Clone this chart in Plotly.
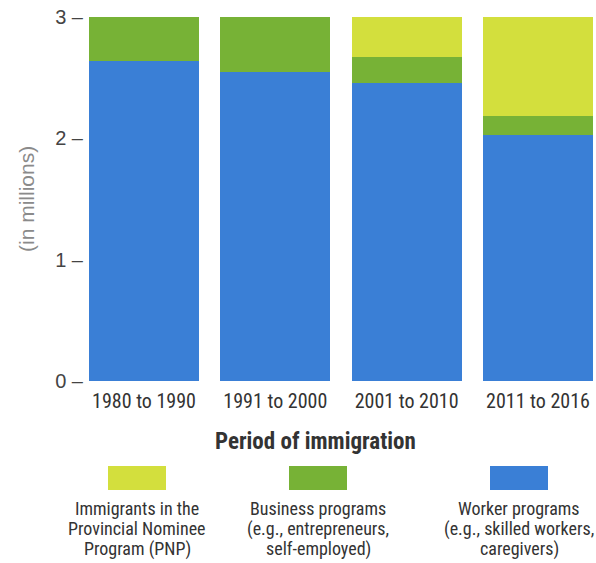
import plotly.graph_objects as go

periods = ["1980 to 1990", "1991 to 2000", "2001 to 2010", "2011 to 2016"]
worker = [2.64, 2.55, 2.46, 2.03]
business = [0.36, 0.45, 0.21, 0.15]
pnp = [0.0, 0.0, 0.33, 0.82]

y_ticks = [0, 1, 2, 3]
y_ticktext = ["0 –", "1 –", "2 –", "3 –"]

legend_labels = [
    ["Immigrants in the", "Provincial Nominee", "Program (PNP)"],
    ["Business programs", "(e.g., entrepreneurs,", "self-employed)"],
    ["Worker programs", "(e.g., skilled workers,", "caregivers)"],
]

COLORS = {"pnp": "#d3df3d", "business": "#77b236", "worker": "#3a7fd6"}
NARROW = "Roboto Condensed, Liberation Sans Narrow, sans-serif"
PLAIN = "Liberation Sans, Arial, sans-serif"

fig = go.Figure()
fig.add_bar(x=periods, y=worker, marker_color=COLORS["worker"], marker_line_width=0)
fig.add_bar(x=periods, y=business, marker_color=COLORS["business"], marker_line_width=0)
fig.add_bar(x=periods, y=pnp, marker_color=COLORS["pnp"], marker_line_width=0)

fig.update_layout(
    barmode="stack",
    bargap=0.162,
    showlegend=False,
    width=596,
    height=563,
    margin=dict(l=89, r=3, t=17, b=182),
    paper_bgcolor="white",
    plot_bgcolor="white",
    font=dict(family=NARROW, color="#333"),
)
fig.update_xaxes(
    range=[-0.419, 3.419],
    showgrid=False,
    showline=False,
    zeroline=False,
    ticks="",
    tickangle=0,
    automargin=False,
    ticklabelstandoff=6,
    tickfont=dict(size=20, family=NARROW, color="#333"),
)
fig.update_yaxes(
    range=[0, 3],
    tickvals=y_ticks,
    ticktext=y_ticktext,
    showgrid=False,
    showline=False,
    zeroline=False,
    ticks="",
    automargin=False,
    ticklabelstandoff=5,
    tickfont=dict(size=20, family=PLAIN, color="#444"),
)

plot_w = 596 - 89 - 3
plot_h = 563 - 17 - 182

# axis titles
fig.add_annotation(
    text="(in millions)", xref="paper", yref="paper", x=(26 - 89) / plot_w, y=0.5,
    xanchor="center", yanchor="middle", textangle=-90, showarrow=False,
    font=dict(size=21, family=PLAIN, color="#8a8a8a"),
)
fig.add_annotation(
    text="<b>Period of immigration</b>", xref="paper", yref="paper",
    x=(315 - 89) / plot_w, y=(381 - 441) / plot_h,
    xanchor="center", yanchor="middle", showarrow=False,
    font=dict(size=23, family=NARROW, color="#333"),
)

# custom legend: swatch above, three text lines below
legend_x = [137, 318, 519]
legend_cols = [COLORS["pnp"], COLORS["business"], COLORS["worker"]]
line_y = [508, 528.5, 549]
for cx, col, lines in zip(legend_x, legend_cols, legend_labels):
    fig.add_shape(
        type="rect", xref="paper", yref="paper",
        x0=(cx - 29 - 89) / plot_w, x1=(cx + 29 - 89) / plot_w,
        y0=(381 - 490) / plot_h, y1=(381 - 466) / plot_h,
        fillcolor=col, line_width=0,
    )
    for ly, txt in zip(line_y, lines):
        fig.add_annotation(
            text=txt, xref="paper", yref="paper", x=(cx - 89) / plot_w, y=(381 - ly) / plot_h,
            xanchor="center", yanchor="middle", showarrow=False,
            font=dict(size=18, family=NARROW, color="#333"),
        )

fig.write_html(
    "out.html",
    config={"displayModeBar": False},
    post_script="document.body.style.margin = '0';",
)
